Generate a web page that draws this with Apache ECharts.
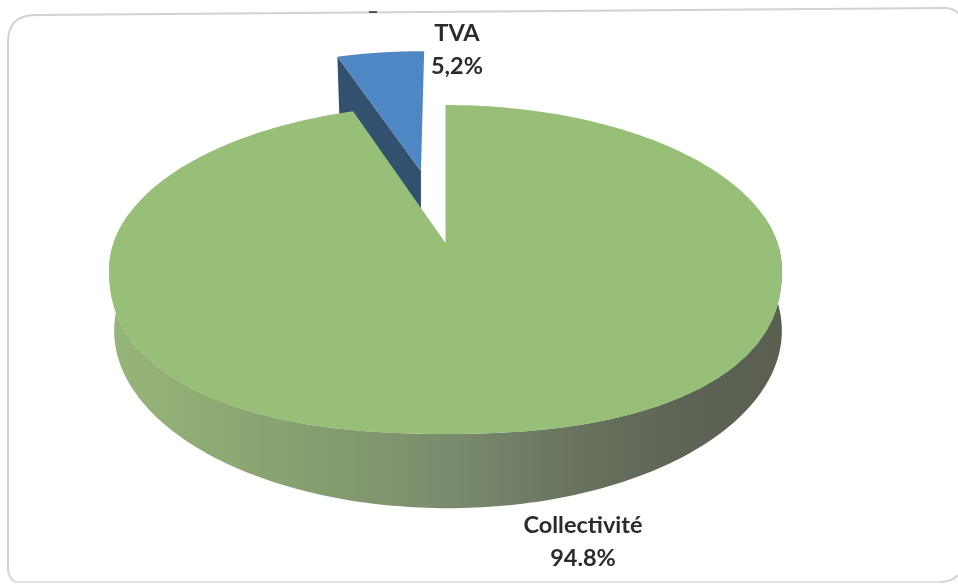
<!DOCTYPE html>
<html><head><meta charset="utf-8">
<style>html,body{margin:0;padding:0;background:#fff}#c{width:958px;height:584px}</style>
<script src="https://cdn.jsdelivr.net/npm/echarts@6/dist/echarts.min.js"></script>
</head><body><div id="c"></div>
<script>
const categories = ['TVA', 'Collectivité'];
const values = [5.2, 94.8];
const valueLabels = ['5,2%', '94.8%'];
const explode = [0.49, 0];
const topColors = ['#4f86c4', '#97bf77'];
const labelAnchors = [[457, 50], [583, 542]];

// perspective disc: plane coords (u, v) on a unit circle, projected to the page
const P = { x0: 445.5, y0: 243, a: 332, b: 160.2, k: 0.161, bx0: 448, by0: 302, ba: 329.5, bb: 173, wallDepth: 62, fullness: 2.3 };
const top3d = (u, v) => { const d = 1 + P.k * v; return [P.x0 + P.a * u / d, P.y0 - P.b * v / d]; };
const bot3d = (u, v) => { const d = 1 + P.k * v; return [P.bx0 + P.ba * u / d, P.by0 - P.bb * v / d]; };
// the near half of the face is a little fuller than a true ellipse
const faceA = P.a / Math.sqrt(1 - P.k * P.k);
const faceR = P.b / (1 - P.k * P.k);
const faceY = P.y0 + P.b * P.k / (1 - P.k * P.k);
function fuller(p) {
  if (p[1] <= faceY) return p;
  const dx = (p[0] - P.x0) / faceA, dy = (p[1] - faceY) / faceR;
  const f = Math.pow(Math.pow(Math.abs(dx), P.fullness) + Math.pow(Math.abs(dy), P.fullness), -1 / P.fullness);
  return [P.x0 + dx * f * faceA, faceY + dy * f * faceR];
}

const total = values.reduce((s, v) => s + v, 0);
// slices run clockwise from 12 o'clock: Collectivité first, TVA closing the circle
const angles = {};
let acc = 0;
[1, 0].forEach(i => { angles[i] = [acc, acc + values[i] / total * Math.PI * 2]; acc = angles[i][1]; });

function rim(i, proj, n) {
  const [s, e] = angles[i], mid = (s + e) / 2, ex = explode[i];
  const ou = Math.sin(mid) * ex, ov = Math.cos(mid) * ex, pts = [];
  for (let j = 0; j <= n; j++) {
    const t = s + (e - s) * j / n;
    pts.push(proj(ou + Math.sin(t), ov + Math.cos(t)));
  }
  return { pts, centre: proj(ou, ov) };
}
const sideGrad = {
  type: 'linear', x: 0, y: 0, x2: 1, y2: 0,
  colorStops: [
    { offset: 0, color: '#97b67a' }, { offset: 0.28, color: '#87a06f' },
    { offset: 0.5, color: '#7b8c6e' }, { offset: 0.73, color: '#666e5c' },
    { offset: 0.85, color: '#5e6556' }, { offset: 1, color: '#5a5f50' }
  ]
};

function renderItem(params, api) {
  const i = params.dataIndex;
  const children = [];
  const top = rim(i, top3d, 240);
  if (i === 0) {
    // wall of the pulled-out slice below its left radial edge (the main slice hides its foot)
    const c = top.centre, e = top.pts[0];
    children.push({ type: 'polygon', shape: { points: [e, c, [c[0], c[1] + P.wallDepth], [e[0] + 2, e[1] + P.wallDepth]] }, style: { fill: '#33506f' } });
    children.push({ type: 'polygon', shape: { points: [top.centre, ...top.pts] }, style: { fill: topColors[i] } });
  } else {
    // main wall: near half of the lower rim, joined up to the sides of the top face which is painted over it
    const lower = [];
    for (let t = 80; t <= 280; t++) {
      const a = t * Math.PI / 180;
      lower.push(bot3d(Math.sin(a), Math.cos(a)));
    }
    const face = [];
    for (let t = 80; t <= 280; t += 4) {
      const a = t * Math.PI / 180;
      face.unshift(fuller(top3d(Math.sin(a), Math.cos(a))));
    }
    children.push({ type: 'polygon', shape: { points: lower.concat(face) }, style: { fill: sideGrad } });
    children.push({ type: 'polygon', shape: { points: [top.centre, ...top.pts.map(fuller)] }, style: { fill: topColors[i] } });
  }
  return { type: 'group', children: children };
}

const labelGraphics = categories.map((c, i) => ({
  type: 'text', x: labelAnchors[i][0], y: labelAnchors[i][1], z: 10,
  style: {
    text: c + '\n' + valueLabels[i], fill: '#2b2b2b', font: '700 23.5px Lato, sans-serif',
    align: 'center', verticalAlign: 'middle', lineHeight: 33
  }
}));

const frameEdge = (x1, y1, cpx, cpy, x2, y2) => ({
  type: 'bezierCurve', z: -1,
  shape: { x1, y1, cpx1: cpx, cpy1: cpy, x2, y2 },
  style: { fill: 'none', stroke: '#d2d2d2', lineWidth: 2 }
});
const frameLine = (x1, y1, x2, y2, stroke) => ({
  type: 'line', z: -1, shape: { x1, y1, x2, y2 }, style: { stroke: stroke, lineWidth: 2 }
});

const chart = echarts.init(document.getElementById('c'), null, { renderer: 'canvas' });
chart.setOption({
  animation: false,
  backgroundColor: '#ffffff',
  graphic: [
    frameLine(8, 570, 8, 42, '#d2d2d2'),
    frameEdge(8, 42, 8, 15, 36, 15),
    frameLine(36, 15, 945, 8, '#d2d2d2'),
    frameEdge(945, 8, 953, 8, 958, 13),
    frameEdge(8, 570, 9, 578, 15, 582),
    frameLine(15, 582, 940, 582, '#e2e2e2'),
    frameEdge(940, 582, 952, 582, 958, 575),
    frameLine(369, 12, 377, 12, '#555555'),
    ...labelGraphics
  ],
  xAxis: { show: false, type: 'value' },
  yAxis: { show: false, type: 'value' },
  series: [{
    type: 'custom', coordinateSystem: 'none', renderItem,
    data: categories.map((c, i) => ({ name: c, value: [values[i]] }))
  }]
});
</script></body></html>
